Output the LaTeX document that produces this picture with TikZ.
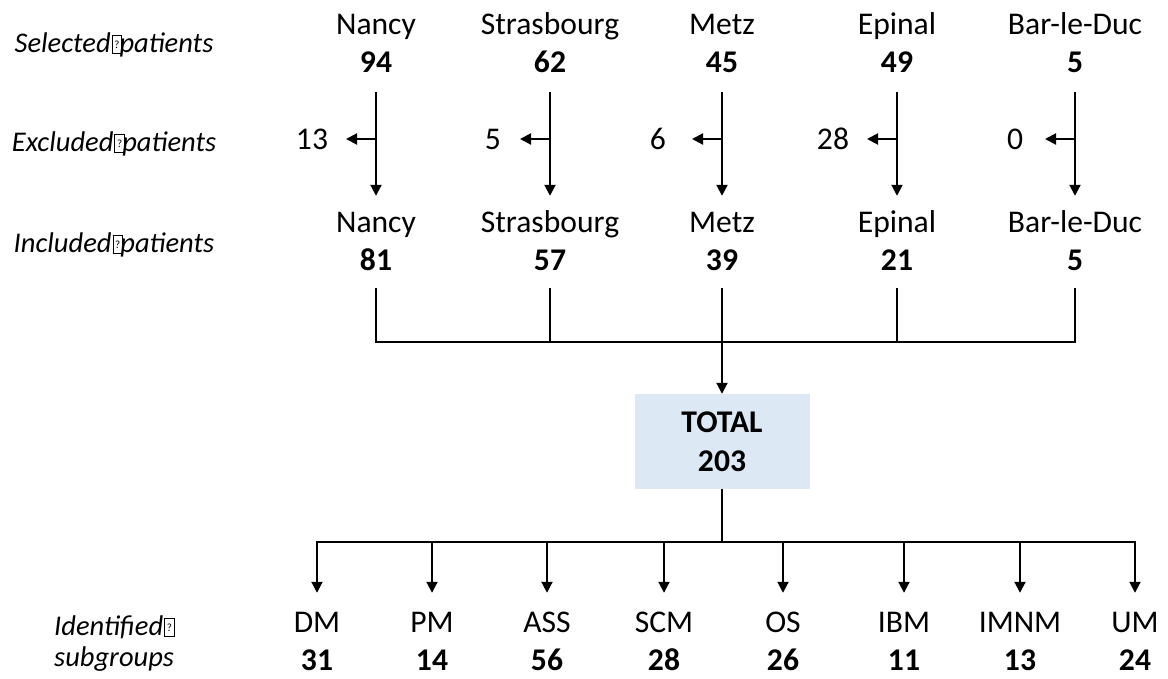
\documentclass[tikz,border=0pt]{standalone}
\usepackage{fontspec}
\setmainfont{Carlito}
\usetikzlibrary{arrows.meta}
\definecolor{boxblue}{HTML}{DDE8F5}
\newcommand\tofu{\kern1pt{\fboxsep=0pt\fboxrule=0.7pt\fbox{\parbox[b][17pt][c]{9pt}{\centering\fontsize{11}{11}\selectfont\upshape ?}}}\kern-2.5pt}
\begin{document}
\begin{tikzpicture}[x=1pt,y=-1pt,
  conn/.style={line width=2pt,draw=black},
  arr/.style={conn,-{Triangle[length=11pt,width=11pt]}},
  city/.style={font=\fontsize{31.6}{38}\selectfont,inner sep=0pt,anchor=base,text height=21pt,text depth=7pt},
  num/.style={font=\fontsize{31.6}{38}\selectfont\bfseries,inner sep=0pt,anchor=base,text height=20pt,text depth=0pt},
  exnum/.style={font=\fontsize{31.6}{38}\selectfont,inner sep=0pt,anchor=base},
  lab/.style={font=\fontsize{28.5}{31}\selectfont\itshape,inner sep=0pt,anchor=base}]
\useasboundingbox (0,0) rectangle (1168,679);

% row labels
\node[lab] (lsel) at (114,53) {Selected\tofu patients};
\node[lab] (lexc) at (114,152) {Excluded\tofu patients};
\node[lab] (linc) at (114,253) {Included\tofu patients};
\node[lab,align=left,anchor=north west] (lsub) at (54,616) {Identified\tofu\\subgroups};

% selected
\node[city] (s1n) at (376,35) {Nancy};
\node[num]  (s1)  at (376,73) {94};
\node[city] (s2n) at (550,35) {Strasbourg};
\node[num]  (s2)  at (550,73) {62};
\node[city] (s3n) at (722,35) {Metz};
\node[num]  (s3)  at (722,73) {45};
\node[city] (s4n) at (897,35) {Epinal};
\node[num]  (s4)  at (897,73) {49};
\node[city] (s5n) at (1075,35) {Bar-le-Duc};
\node[num]  (s5)  at (1075,73) {5};

% included
\node[city] (i1n) at (376,233) {Nancy};
\node[num]  (i1)  at (376,271) {81};
\node[city] (i2n) at (550,233) {Strasbourg};
\node[num]  (i2)  at (550,271) {57};
\node[city] (i3n) at (722,233) {Metz};
\node[num]  (i3)  at (722,271) {39};
\node[city] (i4n) at (897,233) {Epinal};
\node[num]  (i4)  at (897,271) {21};
\node[city] (i5n) at (1075,233) {Bar-le-Duc};
\node[num]  (i5)  at (1075,271) {5};

% excluded
\node[exnum] (e1) at (312,150) {13};
\node[exnum] (e2) at (493,150) {5};
\node[exnum] (e3) at (658,150) {6};
\node[exnum] (e4) at (833,150) {28};
\node[exnum] (e5) at (1015,150) {0};

\foreach \i/\x in {1/376,2/550,3/722,4/897,5/1075}{
  \draw[arr,shorten <=19pt,shorten >=16pt] (s\i.south) -- (i\i n.north);
  \coordinate (b\i) at (\x,139);
  \coordinate (t\i) at (\x-30,139);
  \draw[arr] (b\i) -- (t\i);
  \coordinate (j\i) at (\x,342);
}
\draw[conn,shorten <=17pt,shorten >=17pt] (i1.south) -- (j1) -- (j5) -- (i5.south);
\foreach \i in {2,3,4}{\draw[conn,shorten <=17pt] (i\i.south) -- (j\i);}

% total
\node[fill=boxblue,minimum width=175pt,minimum height=95pt,inner sep=0pt,align=center,
  font=\fontsize{31.6}{38.5}\selectfont\bfseries] (tot) at (722,441.5) {TOTAL\\203};
\draw[arr] (j3) -- (tot.north);

% subgroups
\coordinate (k0) at (722,542);
\foreach \i/\x/\n/\v in {1/317/DM/31,2/432/PM/14,3/547/ASS/56,4/664/SCM/28,5/783/OS/26,6/904/IBM/11,7/1020/IMNM/13,8/1135/UM/24}{
  \coordinate (k\i) at (\x,542);
  \node[city] (g\i n) at (\x,632) {\n};
  \node[num]  (g\i)  at (\x,670) {\v};
  \draw[arr,shorten >=18pt] (k\i) -- (g\i n.north);
}
\draw[conn] (tot.south) -- (k0);
\draw[conn,line cap=rect] (k1) -- (k8);
\end{tikzpicture}
\end{document}
